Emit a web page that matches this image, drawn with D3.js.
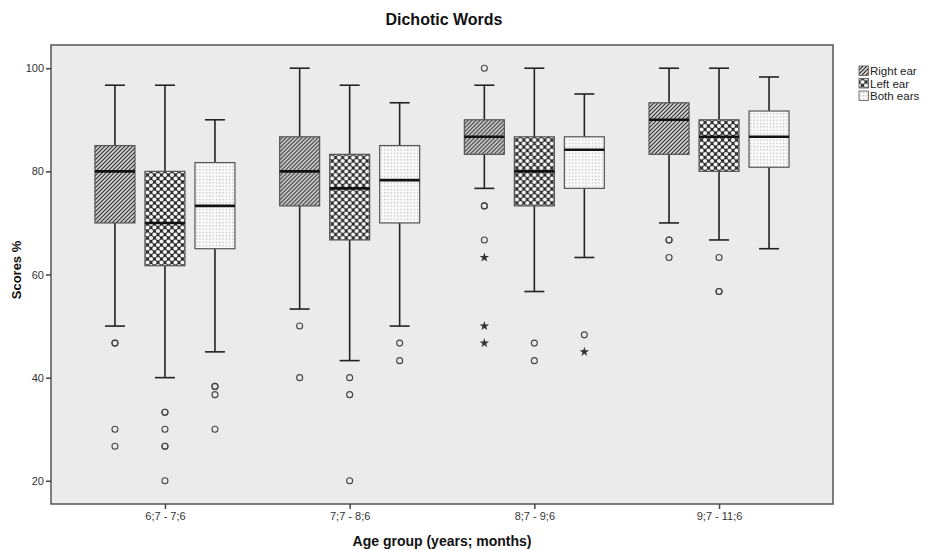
<!DOCTYPE html>
<html>
<head>
<meta charset="utf-8">
<script src="https://cdn.jsdelivr.net/npm/d3@7"></script>
<style>
    body { margin: 0; background: #fff; }
    text { font-family: "Liberation Sans", Arial, sans-serif; }
</style>
</head>
<body>
<div id="chart"></div>
<script>
'use strict';

// age groups on the x axis
var groups = ['6;7 - 7;6', '7;7 - 8;6', '8;7 - 9;6', '9;7 - 11;6'];
var seriesNames = ['Right ear', 'Left ear', 'Both ears'];
var yTicks = [20, 40, 60, 80, 100];

// [lower whisker, q1, median, q3, upper whisker] per age group
var rightEar = [[50, 70, 80, 85, 96.7], [53.3, 73.3, 80, 86.7, 100], [76.7, 83.3, 86.7, 90, 96.7], [70, 83.3, 90, 93.3, 100]];
var leftEar = [[40, 61.7, 70, 80, 96.7], [43.3, 66.7, 76.7, 83.3, 96.7], [56.7, 73.3, 80, 86.7, 100], [66.7, 80, 86.7, 90, 100]];
var bothEars = [[45, 65, 73.3, 81.7, 90], [50, 70, 78.3, 85, 93.3], [63.3, 76.7, 84.2, 86.7, 95], [65, 80.8, 86.7, 91.7, 98.3]];

// outliers (circles), repeated values = several children with same score
var rightEarOut = [[46.7, 46.7, 30, 26.7], [50, 40], [100, 73.3, 73.3, 66.7], [66.7, 66.7, 63.3]];
var leftEarOut = [[33.3, 33.3, 30, 26.7, 26.7, 20], [40, 36.7, 20], [46.7, 43.3], [63.3, 56.7, 56.7]];
var bothEarsOut = [[38.3, 38.3, 36.7, 30], [46.7, 43.3], [48.3], []];

// extremes (stars)
var rightEarExt = [[], [], [63.3, 50, 46.7], []];
var leftEarExt = [[], [], [], []];
var bothEarsExt = [[], [], [45], []];

var width = 926,
    height = 550,
    plot_left = 51,
    plot_right = 833,
    plot_top = 45,
    plot_bottom = 504,
    box_width = 40,
    box_offset = 50,
    cap_width = 20;

var series = [
    { name: seriesNames[0], boxes: rightEar, out: rightEarOut, ext: rightEarExt, fill: 'url(#pat-right)' },
    { name: seriesNames[1], boxes: leftEar, out: leftEarOut, ext: leftEarExt, fill: 'url(#pat-left)' },
    { name: seriesNames[2], boxes: bothEars, out: bothEarsOut, ext: bothEarsExt, fill: 'url(#pat-both)' }
];

var svg = d3.select('#chart').append('svg')
    .attr('width', width)
    .attr('height', height);

// fill patterns
var defs = svg.append('defs');

var pr = defs.append('pattern')
    .attr('id', 'pat-right')
    .attr('patternUnits', 'userSpaceOnUse')
    .attr('width', 4)
    .attr('height', 4);
pr.append('rect').attr('width', 4).attr('height', 4).attr('fill', '#d8d8d8');
pr.append('path')
    .attr('d', 'M-1,1 L1,-1 M0,4 L4,0 M3,5 L5,3')
    .attr('stroke', '#2e2e2e')
    .attr('stroke-width', 1.2);

var pl = defs.append('pattern')
    .attr('id', 'pat-left')
    .attr('patternUnits', 'userSpaceOnUse')
    .attr('width', 7)
    .attr('height', 7);
pl.append('rect').attr('width', 7).attr('height', 7).attr('fill', '#2b2b2b');
[[3.5, 3.5], [0, 0], [7, 0], [0, 7], [7, 7]].forEach(function(c) {
    pl.append('circle')
        .attr('cx', c[0])
        .attr('cy', c[1])
        .attr('r', 2.1)
        .attr('fill', '#f4f4f4');
});

var pb = defs.append('pattern')
    .attr('id', 'pat-both')
    .attr('patternUnits', 'userSpaceOnUse')
    .attr('width', 3.3)
    .attr('height', 3.3);
pb.append('rect').attr('width', 3.3).attr('height', 3.3).attr('fill', '#fafafa');
pb.append('rect').attr('x', 1).attr('y', 1).attr('width', 1).attr('height', 1).attr('fill', '#999');

// scales
var x = d3.scalePoint()
    .domain(groups)
    .range([plot_left, plot_right])
    .padding(0.617);

var y = d3.scaleLinear()
    .domain([15.5, 104.5])
    .range([plot_bottom, plot_top]);

// plot background
svg.append('rect')
    .attr('x', plot_left)
    .attr('y', plot_top)
    .attr('width', plot_right - plot_left)
    .attr('height', plot_bottom - plot_top)
    .attr('fill', '#ebebeb');

// boxes
series.forEach(function(s, si) {
    var dx = (si - 1) * box_offset;

    var g = svg.append('g').selectAll('g').data(s.boxes)
        .enter().append('g')
        .attr('transform', function(d, i) {
            return 'translate(' + (x(groups[i]) + dx) + ',0)';
        });

    // whiskers
    g.append('line')
        .attr('x1', 0).attr('x2', 0)
        .attr('y1', function(d) { return y(d[0]); })
        .attr('y2', function(d) { return y(d[4]); })
        .attr('stroke', '#222')
        .attr('stroke-width', 1.6);

    g.append('line')
        .attr('x1', -cap_width / 2).attr('x2', cap_width / 2)
        .attr('y1', function(d) { return y(d[0]); })
        .attr('y2', function(d) { return y(d[0]); })
        .attr('stroke', '#222')
        .attr('stroke-width', 1.6);

    g.append('line')
        .attr('x1', -cap_width / 2).attr('x2', cap_width / 2)
        .attr('y1', function(d) { return y(d[4]); })
        .attr('y2', function(d) { return y(d[4]); })
        .attr('stroke', '#222')
        .attr('stroke-width', 1.6);

    g.append('rect')
        .attr('x', -box_width / 2)
        .attr('width', box_width)
        .attr('y', function(d) { return y(d[3]); })
        .attr('height', function(d) { return y(d[1]) - y(d[3]); })
        .attr('fill', s.fill)
        .attr('stroke', '#555')
        .attr('stroke-width', 1.2);

    g.append('line')
        .attr('x1', -box_width / 2).attr('x2', box_width / 2)
        .attr('y1', function(d) { return y(d[2]); })
        .attr('y2', function(d) { return y(d[2]); })
        .attr('stroke', '#111')
        .attr('stroke-width', 2.6);

    // outliers
    s.out.forEach(function(vals, gi) {
        svg.append('g').selectAll('circle').data(vals)
            .enter().append('circle')
            .attr('cx', x(groups[gi]) + dx)
            .attr('cy', function(v) { return y(v); })
            .attr('r', 3)
            .attr('fill', 'none')
            .attr('stroke', '#444')
            .attr('stroke-width', 1.1);
    });

    s.ext.forEach(function(vals, gi) {
        svg.append('g').selectAll('path').data(vals)
            .enter().append('path')
            .attr('d', d3.symbol().type(d3.symbolStar).size(28))
            .attr('transform', function(v) {
                return 'translate(' + (x(groups[gi]) + dx) + ',' + y(v) + ')';
            })
            .attr('fill', '#333');
    });
});

// frame
svg.append('rect')
    .attr('x', plot_left)
    .attr('y', plot_top)
    .attr('width', plot_right - plot_left)
    .attr('height', plot_bottom - plot_top)
    .attr('fill', 'none')
    .attr('stroke', '#555')
    .attr('stroke-width', 1.5);

// axes
var yAxis = svg.append('g')
    .attr('transform', 'translate(' + plot_left + ',0)')
    .call(d3.axisLeft(y).tickValues(yTicks).tickSize(5).tickPadding(2));

var xAxis = svg.append('g')
    .attr('transform', 'translate(0,' + plot_bottom + ')')
    .call(d3.axisBottom(x).tickSize(5).tickPadding(3));

[yAxis, xAxis].forEach(function(a) {
    a.style('color', '#333');
    a.select('.domain').remove();
    a.selectAll('.tick line').attr('stroke', '#444').attr('stroke-width', 1.5);
    a.selectAll('.tick text')
        .attr('fill', '#333')
        .style('font-size', '11px')
        .style('font-family', '"Liberation Sans", Arial, sans-serif');
});

// titles
svg.append('text')
    .attr('x', 444)
    .attr('y', 25)
    .attr('text-anchor', 'middle')
    .attr('font-size', 16)
    .attr('font-weight', 'bold')
    .attr('fill', '#111')
    .text('Dichotic Words');

svg.append('text')
    .attr('x', 442)
    .attr('y', 546)
    .attr('text-anchor', 'middle')
    .attr('font-size', 14)
    .attr('font-weight', 'bold')
    .attr('fill', '#111')
    .text('Age group (years; months)');

svg.append('text')
    .attr('transform', 'translate(21,270) rotate(-90)')
    .attr('text-anchor', 'middle')
    .attr('font-size', 13)
    .attr('font-weight', 'bold')
    .attr('fill', '#111')
    .text('Scores %');

// legend
var legend = svg.append('g').selectAll('g').data(series)
    .enter().append('g')
    .attr('transform', function(d, i) {
        return 'translate(859,' + (66 + i * 12.5) + ')';
    });

legend.append('rect')
    .attr('width', 9.5)
    .attr('height', 9.5)
    .attr('fill', function(d) { return d.fill; })
    .attr('stroke', '#555')
    .attr('stroke-width', 0.8);

legend.append('text')
    .attr('x', 11)
    .attr('y', 9)
    .attr('font-size', 11.5)
    .attr('fill', '#222')
    .text(function(d) { return d.name; });
</script>
</body>
</html>
